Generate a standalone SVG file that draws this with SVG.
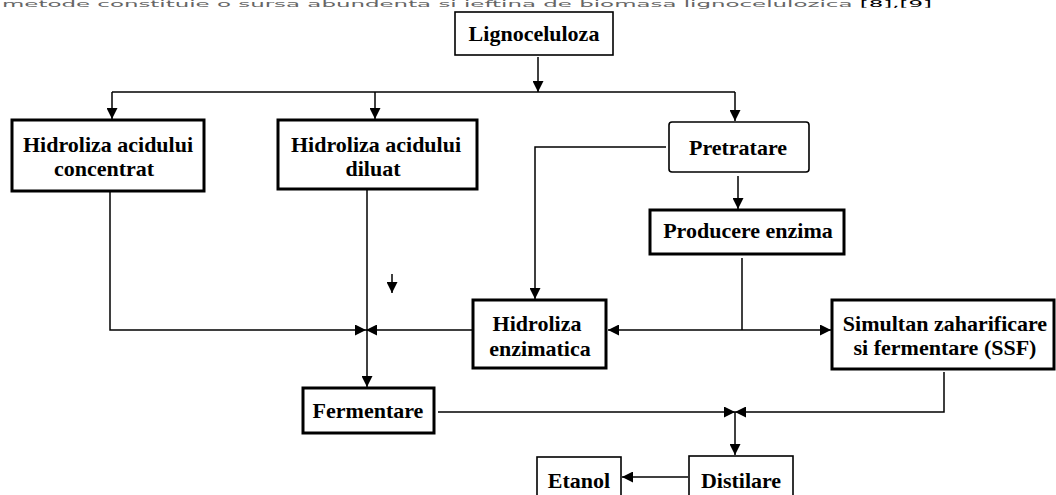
<svg xmlns="http://www.w3.org/2000/svg" width="1056" height="495" viewBox="0 0 1056 495">
<style>
.lbl{font-family:"Liberation Serif","Times New Roman",serif;font-weight:bold;font-size:22px;fill:#000;text-anchor:middle}
.thick{fill:#fff;stroke:#000;stroke-width:3}
.thin{fill:#fff;stroke:#000;stroke-width:1.6}
.con{fill:none;stroke:#000;stroke-width:1.5}
.top{font-family:"DejaVu Sans",Verdana,sans-serif;font-size:8px;fill:#666}
</style>
<defs>
<marker id="ah" viewBox="0 0 10 10" refX="10" refY="5" markerWidth="11" markerHeight="11" markerUnits="userSpaceOnUse" orient="auto">
<path d="M0,0 L10,5 L0,10 Z" fill="#000"/>
</marker>
</defs>
<rect width="1056" height="495" fill="#fff"/>
<text class="top" x="2" y="7" textLength="930" lengthAdjust="spacingAndGlyphs">metode constituie o sursa abundenta si ieftina de biomasa lignocelulozica <tspan fill="#000">[8],[9]</tspan></text>

<g id="connectors">
<path class="con" d="M538,57 V92" marker-end="url(#ah)"/>
<path class="con" d="M112,92 H735"/>
<path class="con" d="M112,92 V119" marker-end="url(#ah)"/>
<path class="con" d="M375,92 V119" marker-end="url(#ah)"/>
<path class="con" d="M735,92 V121" marker-end="url(#ah)"/>
<path class="con" d="M666,147 H535 V299" marker-end="url(#ah)"/>
<path class="con" d="M738,176 V209" marker-end="url(#ah)"/>
<path class="con" d="M742,258 V330"/>
<path class="con" d="M742,330 H608" marker-end="url(#ah)"/>
<path class="con" d="M742,330 H831" marker-end="url(#ah)"/>
<path class="con" d="M110,192 V330 H366" marker-end="url(#ah)"/>
<path class="con" d="M472,330 H366" marker-end="url(#ah)"/>
<path class="con" d="M367,190 V387" marker-end="url(#ah)"/>
<path class="con" d="M392,274 V293" marker-end="url(#ah)"/>
<path class="con" d="M438,412 H735" marker-end="url(#ah)"/>
<path class="con" d="M944,372 V412 H735" marker-end="url(#ah)"/>
<path class="con" d="M735,412 V455" marker-end="url(#ah)"/>
<path class="con" d="M688,477 H622" marker-end="url(#ah)"/>
</g>

<g id="lignoceluloza">
<rect class="thin" x="455" y="12" width="158" height="43"/>
<text class="lbl" x="534" y="41">Lignoceluloza</text>
</g>
<g id="hidroliza-concentrat">
<rect class="thick" x="12" y="120" width="192" height="71"/>
<text class="lbl" x="108" y="152">Hidroliza acidului</text>
<text class="lbl" x="104" y="176">concentrat</text>
</g>
<g id="hidroliza-diluat">
<rect class="thick" x="278" y="120" width="199" height="69"/>
<text class="lbl" x="376" y="152">Hidroliza acidului</text>
<text class="lbl" x="373" y="176">diluat</text>
</g>
<g id="pretratare">
<rect class="thin" x="669" y="122" width="140" height="50" rx="3"/>
<text class="lbl" x="738" y="155">Pretratare</text>
</g>
<g id="producere-enzima">
<rect class="thick" x="650" y="210" width="194" height="44"/>
<text class="lbl" x="748" y="238">Producere enzima</text>
</g>
<g id="hidroliza-enzimatica">
<rect class="thick" x="473" y="300" width="133" height="68"/>
<text class="lbl" x="537" y="331">Hidroliza</text>
<text class="lbl" x="540" y="356">enzimatica</text>
</g>
<g id="ssf">
<rect class="thick" x="832" y="300" width="222" height="69"/>
<text class="lbl" x="945" y="331">Simultan zaharificare</text>
<text class="lbl" x="945" y="355">si fermentare (SSF)</text>
</g>
<g id="fermentare">
<rect class="thick" x="303" y="388" width="131" height="45"/>
<text class="lbl" x="368" y="418">Fermentare</text>
</g>
<g id="distilare">
<rect class="thin" x="689" y="456" width="104" height="50"/>
<text class="lbl" x="741" y="488">Distilare</text>
</g>
<g id="etanol">
<rect class="thin" x="537" y="457" width="84" height="50"/>
<text class="lbl" x="579" y="488">Etanol</text>
</g>
</svg>
